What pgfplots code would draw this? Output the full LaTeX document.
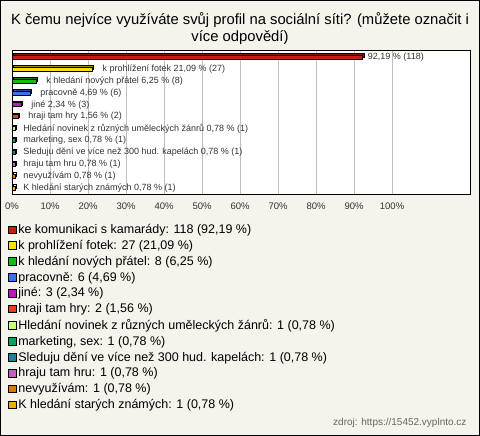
\documentclass[border=0pt]{standalone}
\usepackage{fontspec}
\setmainfont{Liberation Sans}
\usepackage{pgfplots}
\pgfplotsset{compat=1.18}
\definecolor{bgc}{HTML}{F4F3EC}
\definecolor{c1}{HTML}{C0200C}
\definecolor{c2}{HTML}{F8E010}
\definecolor{c3}{HTML}{18B818}
\definecolor{c4}{HTML}{4070E8}
\definecolor{c5}{HTML}{B818C8}
\definecolor{c6}{HTML}{E04418}
\definecolor{c7}{HTML}{C8FF80}
\definecolor{c8}{HTML}{10A060}
\definecolor{c9}{HTML}{208098}
\definecolor{c10}{HTML}{C060C0}
\definecolor{c11}{HTML}{E07800}
\definecolor{c12}{HTML}{E8B010}
\definecolor{lbl}{HTML}{333333}
\begin{document}
\begin{tikzpicture}
\fill[bgc] (0,0) rectangle (480pt,-436pt);
\draw[black, line width=1pt] (0.5pt,-0.5pt) rectangle (479.5pt,-435.5pt);
\node[align=center, font=\fontsize{14.8}{17}\selectfont, anchor=center] at (240pt,-28.5pt)
  {K čemu nejvíce využíváte svůj profil na sociální síti? (můžete označit i\\více odpovědí)};
\begin{axis}[
  at={(12pt,-50pt)}, anchor=north west,
  scale only axis, width=458pt, height=144pt,
  xmin=0, xmax=120.5, ymin=-0.59, ymax=11.5, y dir=reverse,
  axis background/.style={fill=white},
  xbar, bar width=4pt,
  ytick=\empty,
  xtick={0,10,...,100},
  xticklabel={\pgfmathprintnumber{\tick}\%},
  /pgf/number format/assume math mode=true,
  xticklabel style={font=\fontsize{9.5}{11}\selectfont, color=lbl, yshift=-5pt},
  major tick length=0pt,
  xmajorgrids, grid style={color=black!25, line width=0.6pt},
  axis line style={black, line width=0.8pt},
  nodes near coords style={font=\fontsize{9}{10}\selectfont, color=lbl, anchor=west},
  legend image code/.code={\draw[#1, draw=black, line width=0.5pt] (0pt,-3.8pt) rectangle (7.6pt,3.8pt);},
  legend cell align=left,
  legend style={at={(rel axis cs:0,0)}, anchor=north west, xshift=-4pt, yshift=-29pt,
    draw=none, fill=none, inner sep=0pt, row sep=3.2pt,
    font=\fontsize{12.5}{14}\selectfont,
    nodes={inner xsep=2pt, inner ysep=1pt}},
]
% shadows (3D effect)
\addplot[forget plot, fill=c1!65!black, draw=black, line width=0.4pt, bar shift=0pt, xshift=1.5pt, yshift=1.5pt] coordinates {(92.19,0)};
\addplot[forget plot, fill=c2!65!black, draw=black, line width=0.4pt, bar shift=0pt, xshift=1.5pt, yshift=1.5pt] coordinates {(21.09,1)};
\addplot[forget plot, fill=c3!65!black, draw=black, line width=0.4pt, bar shift=0pt, xshift=1.5pt, yshift=1.5pt] coordinates {(6.25,2)};
\addplot[forget plot, fill=c4!65!black, draw=black, line width=0.4pt, bar shift=0pt, xshift=1.5pt, yshift=1.5pt] coordinates {(4.69,3)};
\addplot[forget plot, fill=c5!65!black, draw=black, line width=0.4pt, bar shift=0pt, xshift=1.5pt, yshift=1.5pt] coordinates {(2.34,4)};
\addplot[forget plot, fill=c6!65!black, draw=black, line width=0.4pt, bar shift=0pt, xshift=1.5pt, yshift=1.5pt] coordinates {(1.56,5)};
\addplot[forget plot, fill=white, draw=black, line width=0.4pt, bar shift=0pt, xshift=1.5pt, yshift=1.5pt] coordinates {(0.78,6) (0.78,7) (0.78,8) (0.78,9) (0.78,10) (0.78,11)};
% front bars
\addplot[fill=c1, draw=black, line width=0.4pt, bar shift=0pt, nodes near coords={92,19 \% (118)}, every node near coord/.append style={xshift=2pt}] coordinates {(92.19,0)};
\addlegendentry{ke komunikaci s kamarády: 118 (92,19 \%)}
\addplot[fill=c2, draw=black, line width=0.4pt, bar shift=0pt, nodes near coords={k prohlížení fotek 21,09 \% (27)}, every node near coord/.append style={xshift=7pt}] coordinates {(21.09,1)};
\addlegendentry{k prohlížení fotek: 27 (21,09 \%)}
\addplot[fill=c3, draw=black, line width=0.4pt, bar shift=0pt, nodes near coords={k hledání nových přátel 6,25 \% (8)}, every node near coord/.append style={xshift=7pt}] coordinates {(6.25,2)};
\addlegendentry{k hledání nových přátel: 8 (6,25 \%)}
\addplot[fill=c4, draw=black, line width=0.4pt, bar shift=0pt, nodes near coords={pracovně 4,69 \% (6)}, every node near coord/.append style={xshift=7pt}] coordinates {(4.69,3)};
\addlegendentry{pracovně: 6 (4,69 \%)}
\addplot[fill=c5, draw=black, line width=0.4pt, bar shift=0pt, nodes near coords={jiné 2,34 \% (3)}, every node near coord/.append style={xshift=7pt}] coordinates {(2.34,4)};
\addlegendentry{jiné: 3 (2,34 \%)}
\addplot[fill=c6, draw=black, line width=0.4pt, bar shift=0pt, nodes near coords={hraji tam hry 1,56 \% (2)}, every node near coord/.append style={xshift=7pt}] coordinates {(1.56,5)};
\addlegendentry{hraji tam hry: 2 (1,56 \%)}
\addplot[fill=c7, draw=black, line width=0.4pt, bar shift=0pt, nodes near coords={Hledání novinek z různých uměleckých žánrů 0,78 \% (1)}, every node near coord/.append style={xshift=5pt}] coordinates {(0.78,6)};
\addlegendentry{Hledání novinek z různých uměleckých žánrů: 1 (0,78 \%)}
\addplot[fill=c8, draw=black, line width=0.4pt, bar shift=0pt, nodes near coords={marketing, sex 0,78 \% (1)}, every node near coord/.append style={xshift=5pt}] coordinates {(0.78,7)};
\addlegendentry{marketing, sex: 1 (0,78 \%)}
\addplot[fill=c9, draw=black, line width=0.4pt, bar shift=0pt, nodes near coords={Sleduju dění ve více než 300 hud. kapelách 0,78 \% (1)}, every node near coord/.append style={xshift=5pt}] coordinates {(0.78,8)};
\addlegendentry{Sleduju dění ve více než 300 hud. kapelách: 1 (0,78 \%)}
\addplot[fill=c10, draw=black, line width=0.4pt, bar shift=0pt, nodes near coords={hraju tam hru 0,78 \% (1)}, every node near coord/.append style={xshift=5pt}] coordinates {(0.78,9)};
\addlegendentry{hraju tam hru: 1 (0,78 \%)}
\addplot[fill=c11, draw=black, line width=0.4pt, bar shift=0pt, nodes near coords={nevyužívám 0,78 \% (1)}, every node near coord/.append style={xshift=5pt}] coordinates {(0.78,10)};
\addlegendentry{nevyužívám: 1 (0,78 \%)}
\addplot[fill=c12, draw=black, line width=0.4pt, bar shift=0pt, nodes near coords={K hledání starých známých 0,78 \% (1)}, every node near coord/.append style={xshift=5pt}] coordinates {(0.78,11)};
\addlegendentry{K hledání starých známých: 1 (0,78 \%)}
\end{axis}
\node[anchor=east, font=\fontsize{10}{12}\selectfont, color=black!60] at (470pt,-423pt) {zdroj: https://15452.vyplnto.cz};
\end{tikzpicture}
\end{document}
